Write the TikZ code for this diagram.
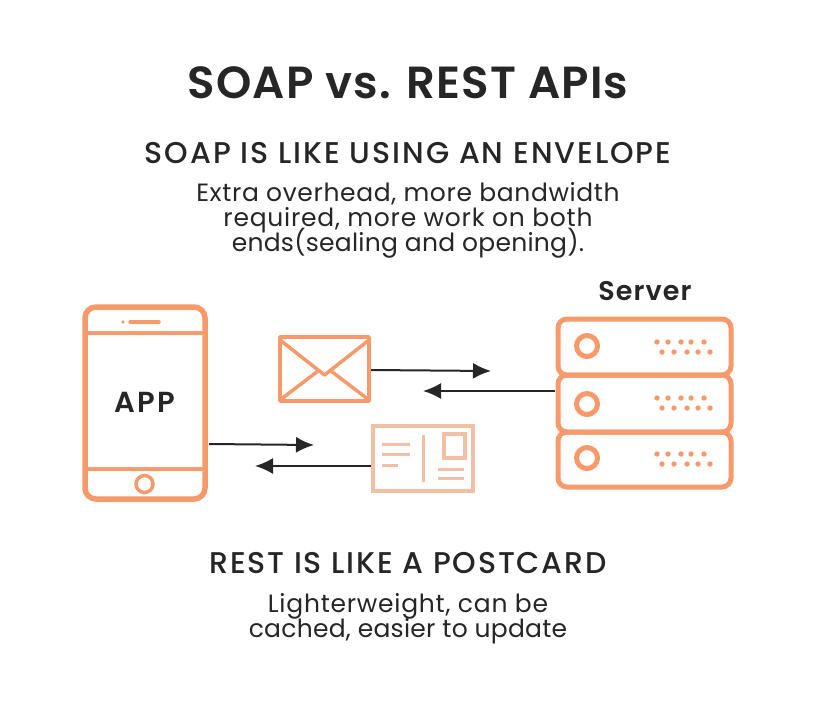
\documentclass[tikz,border=0pt]{standalone}
\usepackage{fontspec}
\setmainfont{Poppins}[BoldFont={Poppins SemiBold}]
\newfontfamily\headfont{Poppins Medium}
\usetikzlibrary{arrows.meta}
\definecolor{ink}{HTML}{262626}
\definecolor{peach}{HTML}{F79A6B}
\definecolor{pale}{HTML}{F2BFA5}
\tikzset{
 x=1pt,y=-1pt,
 txt/.style={text=ink,anchor=base,inner sep=0pt,font=\fontsize{25}{25}\selectfont\addfontfeature{LetterSpace=#1}},
 headtxt/.style={text=ink,anchor=base,inner sep=0pt,font=\headfont\fontsize{30}{30}\selectfont\addfontfeature{LetterSpace=#1}},
 boldtxt/.style={text=ink,inner sep=0pt,font=\fontsize{#1}{#1}\selectfont\bfseries},
 icon/.style={draw=peach,line width=#1,line join=round},
 icon/.default=3.5,
 palestroke/.style={draw=pale,line width=#1},
 palestroke/.default=3.5,
 flow/.style={draw=ink,line width=2,-{Latex[length=18pt,width=16pt,sharp]}},
 hole/.style={circle,draw=peach,line width=5,minimum size=21pt,inner sep=0pt},
 rack/.style={draw=peach,line width=5,rounded corners=9pt},
}
\newcommand{\rackdots}[1]{%
 \foreach \dx in {657,668,681,691,704}{\fill[peach] (\dx,#1-4) circle (2.7pt);}
 \foreach \dx in {662,674,687,698,710}{\fill[peach] (\dx,#1+6) circle (2.7pt);}
}
\begin{document}
\begin{tikzpicture}
\useasboundingbox (0,0) rectangle (828,702);
\fill[white] (0,0) rectangle (828,702);
% texts
\node[boldtxt=45] (title) at (408,83) {\addfontfeature{LetterSpace=2.6}SOAP vs. REST APIs};
\node[headtxt=6.5] (soaphead) at (408,163) {SOAP IS LIKE USING AN ENVELOPE};
\node[txt=2.5] (soapa) at (408,201) {Extra overhead, more bandwidth};
\node[txt=3] (soapb) at (408,226) {required, more work on both};
\node[txt=1] (soapc) at (408,251) {ends(sealing and opening).};
\node[boldtxt=27] (srv) at (645,291) {\addfontfeature{LetterSpace=4}Server};
\node[headtxt=6] (resthead) at (408,573) {REST IS LIKE A POSTCARD};
\node[txt=3] (resta) at (408,612) {Lighterweight, can be};
\node[txt=1] (restb) at (408,637) {cached, easier to update};
% phone
\draw[icon=5.5,rounded corners=11pt] (85,307) rectangle (205,499);
\draw[icon=4] (85,333) -- (205,333) (85,469) -- (205,469);
\draw[icon=3.5,line cap=round] (130,322) -- (159,322);
\fill[peach] (123,322) circle (1.8pt);
\node[circle,draw=peach,line width=3.5,minimum size=17pt,inner sep=0pt] (homebtn) at (144.5,484) {};
\node[boldtxt=29] (app) at (145,402) {\addfontfeature{LetterSpace=7}APP};
% envelope
\draw[icon] (280,337) rectangle (369,401);
\draw[icon] (280,340) -- (324.5,375) -- (369,340);
\draw[icon] (280,400) -- (318,371) (369,400) -- (331,371);
% postcard
\draw[palestroke] (373,426) rectangle (473,491);
\draw[palestroke=3] (382,444) -- (410,444) (382,454) -- (410,454) (382,465) -- (398,465);
\draw[palestroke=3] (423,435) -- (423,482);
\draw[palestroke] (444,434) rectangle (465,458);
\draw[palestroke=3] (438,469) -- (464,469) (438,478) -- (464,478);
% server
\draw[rack] (558,319) rectangle (731,375);
\draw[rack] (558,375) rectangle (731,432);
\draw[rack] (558,432) rectangle (731,487);
\node[hole] (h1) at (587,346) {};
\node[hole] (h2) at (587,404) {};
\node[hole] (h3) at (587,458) {};
\rackdots{346}\rackdots{402}\rackdots{458}
% connectors
\coordinate (envR) at (371,370);
\coordinate (toSrv) at (491,371);
\coordinate (srvL) at (555,391);
\coordinate (toEnv) at (423,391);
\coordinate (phoneR) at (209,444);
\coordinate (toPost) at (314,445);
\coordinate (postL) at (371,466);
\coordinate (toPhone) at (255,466);
\draw[flow] (envR) -- (toSrv);
\draw[flow] (srvL) -- (toEnv);
\draw[flow] (phoneR) -- (toPost);
\draw[flow] (postL) -- (toPhone);
\end{tikzpicture}
\end{document}
